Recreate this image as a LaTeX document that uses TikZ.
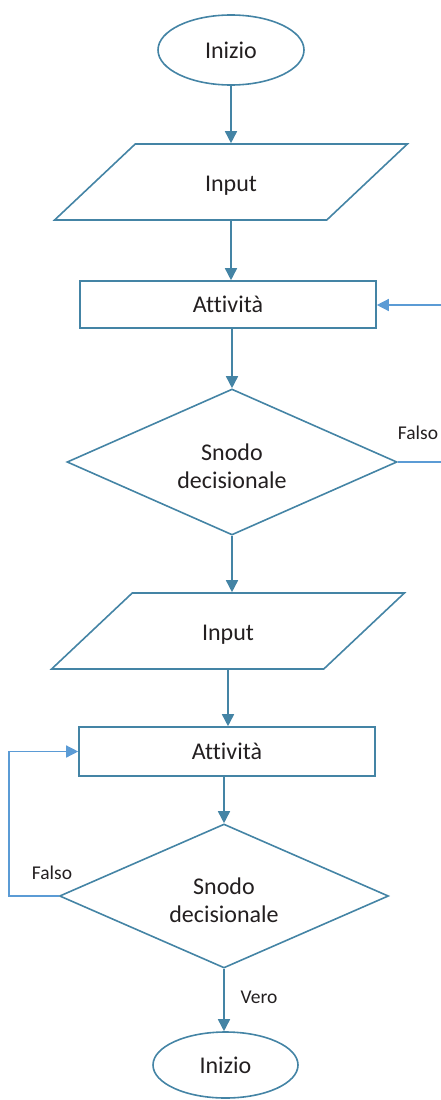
\documentclass[tikz,border=0pt]{standalone}
\usepackage{fontspec}
\setmainfont{Carlito}[Ligatures=NoCommon]
\usepackage{tikz}
\usetikzlibrary{arrows.meta,shapes.geometric}
\definecolor{fbline}{RGB}{68,132,165}
\definecolor{fbback}{RGB}{91,155,213}
\definecolor{fbtext}{RGB}{35,31,32}

\begin{document}
\begin{tikzpicture}[x=1pt, y=-1pt,
		term/.style={ellipse, draw=fbline, line width=1.6pt, inner sep=0pt, minimum width=146pt, minimum height=70pt, text=fbtext, font=\fontsize{24}{29}\selectfont},
		para/.style={trapezium, trapezium left angle=41, trapezium right angle=139, trapezium stretches=true, draw=fbline, line width=1.6pt, inner sep=0pt, minimum width=355pt, minimum height=76pt, text height=19pt, text depth=0pt, text=fbtext, font=\fontsize{24}{29}\selectfont},
		blk/.style={rectangle, draw=fbline, line width=1.6pt, inner sep=0pt, minimum width=296pt, text=fbtext, font=\fontsize{24}{29}\selectfont},
		dec/.style={diamond, aspect=2.2, draw=fbline, line width=1.6pt, inner sep=0pt, minimum width=330pt, minimum height=146pt, align=center, text=fbtext, font=\fontsize{24}{28}\selectfont},
		lbl/.style={text=fbtext, inner sep=0pt, font=\fontsize{19.5}{23}\selectfont},
		flow/.style={draw=fbline, line width=1.6pt, -{Triangle[width=12pt,length=12pt]}},
		back/.style={draw=fbback, line width=1.4pt, -{Triangle[width=12pt,length=12pt]}}]
		%%%%% START %%%%%
		
		\useasboundingbox (0, 0) rectangle (441, 1100);
		
		\node[term] (start) at (231, 50) {Inizio};
		\node[para] (in1) at (231, 182) {Input};
		\node[blk, minimum height=47pt] (act1) at (228, 304.5) {Attività};
		\node[dec] (dec1) at (232, 462) {\rule{0pt}{25pt}Snodo\\decisionale};
		
		\node[para] (in2) at (228, 631) {Input};
		\node[blk, minimum height=49pt] (act2) at (227, 751.5) {Attività};
		\node[dec, minimum width=329pt, minimum height=144pt] (dec2) at (224, 896) {\rule{0pt}{25pt}Snodo\\decisionale};
		\node[term, minimum width=145pt, minimum height=66pt] (stop) at (225.5, 1065) {Inizio};
		
		\coordinate (ext1) at (441, 305);
		\coordinate (ext2) at (441, 462);
		\coordinate (loop) at (9, 896);
		
		\draw[flow] (start.south) -- (start.south |- in1.north);
		\draw[flow] (in1.south) -- (in1.south |- act1.north);
		\draw[back] (ext1) -- (ext1 -| act1.east);
		\draw[flow] (dec1.north |- act1.south) -- (dec1.north);
		
		\draw[back, -] (dec1.east) -- (ext2);
		\node[lbl] (no1) at (418, 433) {Falso};
		
		\draw[flow] (dec1.south) -- (dec1.south |- in2.north);
		\draw[flow] (in2.south) -- (in2.south |- act2.north);
		\draw[flow] (dec2.north |- act2.south) -- (dec2.north);
		
		\draw[back] (dec2.west) -- (loop) |- (act2.west);
		\node[lbl] (no2) at (52, 873) {Falso};
		
		\draw[flow] (dec2.south) -- (dec2.south |- stop.north);
		\node[lbl] (yes) at (259, 997) {Vero};
		
		%%%%% END %%%%%
	\end{tikzpicture}
\end{document}
